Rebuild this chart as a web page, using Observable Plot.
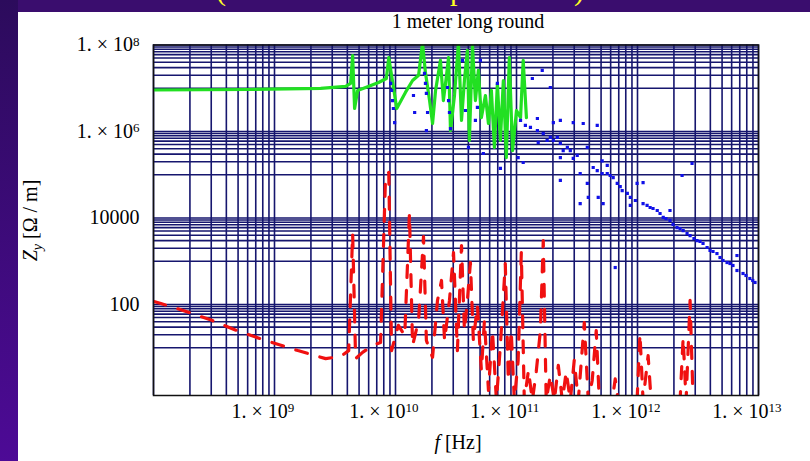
<!DOCTYPE html>
<html>
<head>
<meta charset="utf-8">
<script src="https://cdn.jsdelivr.net/npm/d3@7"></script>
<script src="https://cdn.jsdelivr.net/npm/@observablehq/plot@0.6"></script>
<style>
  html, body { margin: 0; padding: 0; background: #fff; }
  #wrap { position: relative; width: 810px; height: 461px; overflow: hidden; background: #fff; font-family: "Liberation Serif", "DejaVu Serif", serif; }
  #chart { position: absolute; left: 0; top: 0; }
  .band-top { position: absolute; left: 0; top: 0; width: 810px; height: 12px; background: #3a0d6e; overflow: hidden; z-index: 3; }
  .band-left { position: absolute; left: 0; top: 0; width: 18px; height: 461px; background: linear-gradient(to bottom, #2c0b5c, #4d0a96); z-index: 4; }
  .yellow { position: absolute; left: 216px; top: -25px; width: 368px; font: 30px "Liberation Serif", serif; line-height: 30px; color: #ffff22; white-space: nowrap; display: flex; justify-content: space-between; }
  .lbl { position: absolute; color: #000; white-space: nowrap; z-index: 2; }
</style>
</head>
<body>
<div id="wrap">
  <div id="chart"></div>
  <div class="band-top"><div class="yellow"><span>(</span><span>resistive wall impedance</span><span>)</span></div></div>
  <div class="band-left"></div>
  <div class="lbl" id="title" style="left:368px; width:200px; top:10px; text-align:center; font-size:20px;">1 meter long round</div>
  <div class="lbl" id="xlab" style="left:408px; width:100px; top:431px; text-align:center; font-size:20px;"><i>f</i> [Hz]</div>
  <div class="lbl" id="ylab" style="left:-18px; width:100px; top:207px; text-align:center; font-size:20px; transform: rotate(-90deg); transform-origin: 50% 50%;"><i>Z</i><sub style="font-size:14px;"><i>y</i></sub> [Ω / m]</div>
</div>
<script>
// ---------- axes / ticks ----------
const xTicks = [1e9, 1e10, 1e11, 1e12, 1e13];
const xTickLabels = ["1. × 10|9", "1. × 10|10", "1. × 10|11", "1. × 10|12", "1. × 10|13"];
const yTicks = [100, 1e4, 1e6, 1e8];
const yTickLabels = ["100", "10000", "1. × 10|6", "1. × 10|8"];

// grid lines (frequency grid is based on 1.25·10^k decades)
const xGridDecades = [1.25e8, 1.25e9, 1.25e10, 1.25e11, 1.25e12];
const xGridMultipliers = [1, 2, 3, 4, 5, 6, 7, 8, 9];
const xGridEnd = [1.25e13];
const yGridDecades = [10, 1e3, 1e5, 1e7];
const yGridMultipliers = [1, 2, 3, 4, 5, 6, 7, 8, 9];
const yGridExtra = [1e2, 1e4, 1e6, 1e8];

// ---------- series: green (solid) ----------
const greenF = [1.25e8, 7.96e8, 3.01e9, 4.84e9, 5.32e9, 5.53e9, 5.74e9, 6.08e9, 7.08e9, 9.06e9,
  1.05e10, 1.1e10, 1.16e10, 1.28e10, 1.51e10, 1.73e10, 1.94e10, 2.09e10, 2.21e10, 2.39e10,
  2.53e10, 2.68e10, 2.94e10, 3.11e10, 3.30e10, 3.43e10, 3.56e10, 3.84e10, 4.14e10, 4.39e10,
  4.64e10, 4.91e10, 5.1e10, 5.41e10, 5.72e10, 6.05e10, 6.41e10, 6.92e10, 7.33e10, 7.75e10,
  8.21e10, 8.69e10, 9.2e10, 9.73e10, 1.03e11, 1.09e11, 1.16e11, 1.25e11, 1.35e11, 1.42e11, 1.51e11];
const greenZ = [9.1e6, 9.35e6, 9.9e6, 1.1e7, 1.29e7, 5.7e7, 3.4e6, 8.9e6, 1.04e7, 1.36e7,
  1.68e7, 5.1e7, 2.0e7, 3.4e6, 8.0e6, 1.51e7, 2.0e7, 1.1e8, 2.3e7, 5.2e6,
  1.53e6, 8.9e6, 4.4e7, 5.2e6, 2.0e7, 5.1e7, 1.05e6, 6.8e6, 1.1e8, 1.8e6,
  1.51e7, 7.5e7, 6.2e5, 9.7e7, 5.2e6, 2.6e7, 2.1e6, 6.8e6, 1.53e6, 8.9e6,
  4.3e5, 1.29e7, 6.2e5, 1.51e7, 2.5e5, 5.1e7, 3.6e5, 3.06e6, 2.1e6, 4.4e7, 2.1e6];

// ---------- series: blue (points) ----------
const blueF = [1.14e10, 1.16e10, 1.18e10, 1.2e10, 1.23e10, 1.76e10, 1.80e10, 2.17e10, 2.21e10, 2.25e10,
  2.3e10, 2.25e10, 3.36e10, 3.43e10, 3.49e10, 3.56e10, 4.47e10, 4.73e10, 5.01e10, 6.29e10,
  5.94e10, 5.72e10, 6.65e10, 8.69e10, 9.2e10, 1.29e11, 1.42e11, 2.04e11, 2.38e11, 1.69e11,
  1.86e11, 1.35e11, 1.48e11, 1.63e11, 1.86e11, 2.08e11, 2.38e11, 2.72e11, 2.52e11, 2.88e11,
  3.29e11, 3.48e11, 3.97e11, 3.04e11, 4.81e11, 5.81e11, 4.45e11, 3.68e11, 2.88e11, 2.52e11,
  2.24e11, 1.89e11, 2.88e11, 3.68e11, 4.2e11, 4.81e11, 4.9e11, 5.92e11, 6.5e11, 5.38e11,
  5.81e11, 6.38e11, 7.03e11, 7.87e11, 8.5e11, 9.34e11, 1.03e12, 1.09e12, 1.2e12, 1.09e12,
  1.24e12, 1.39e12, 1.59e12, 1.82e12, 2.04e12, 2.32e12, 2.65e12, 2.98e12, 3.40e12, 3.88e12,
  4.35e12, 4.97e12, 5.67e12, 6.36e12, 7.27e12, 8.3e12, 9.31e12, 1.06e13, 1.17e13, 3.53e12,
  2.92e12, 8.3e12, 8.18e11, 2.32e12, 1.39e12, 6.38e11, 7.03e11, 2.88e11, 4.2e11, 6.01e12,
  4.7e12, 4.11e12, 3.21e12, 2.46e12, 1.92e12, 1.68e12, 1.5e12, 7.69e12, 9.85e12, 1.12e13,
  6.87e12, 5.26e12, 3.66e12, 2.81e12, 2.15e12, 9.0e11, 7.43e11];
const blueZ = [1.29e7, 8.9e6, 5.2e6, 3.4e6, 1.6e6, 6.8e6, 2.75e6, 2.2e7, 1.29e7, 7.6e6,
  2.75e6, 1.05e6, 1.04e7, 5.2e6, 2.75e6, 1.17e6, 4.4e7, 3.06e6, 4.3e5, 4.4e7,
  3.6e6, 1.8e6, 3.1e5, 1.29e7, 1.4e5, 2.5e5, 1.92e5, 2.6e7, 1.04e7, 1.68e7,
  2.0e6, 1.8e6, 1.38e6, 1.24e6, 1.05e6, 9.0e5, 7.3e5, 7.3e5, 6.2e5, 5.3e5,
  4.3e5, 3.6e5, 2.8e5, 3.6e5, 4.3e5, 1.38e6, 1.53e6, 1.6e6, 1.8e6, 1.6e6,
  6.2e5, 5.6e5, 2.5e5, 2.4e5, 1.07e5, 6.3e4, 3.0e4, 3.0e4, 2.16e4, 1.47e5,
  1.25e5, 1.07e5, 1.07e5, 8.6e4, 6.3e4, 4.3e4, 3.7e4, 3.0e4, 2.54e4, 1.95e4,
  6.3e4, 2.16e4, 1.75e4, 1.49e4, 1.03e4, 8.8e3, 6.0e3, 5.1e3, 3.9e3, 3.0e3,
  2.57e3, 1.77e3, 1.51e3, 1.04e3, 887, 611, 521, 399, 323, 1.82e5,
  9.6e4, 1.36e3, 716, 1.49e4, 6.6e4, 2.1e5, 1.64e5, 7.4e4, 2.16e4, 1.22e3,
  2.08e3, 2.87e3, 4.38e3, 7.1e3, 1.27e4, 1.66e4, 1.95e4, 798, 469, 359,
  935, 1.68e3, 3.36e3, 5.7e3, 9.7e3, 5.3e4, 9.6e4];

// ---------- series: red (dashed) ----------
const redF = [1.26e8, 1.44e8, 2.19e8, 3.79e8, 6.34e8, 1.06e9, 1.95e9, 3.31e9, 4.4e9, 5.13e9,
  5.53e9, 5.85e9, 6.68e9, 8.09e9, 9.41e9, 1.035e10, 1.10e10, 1.16e10, 1.32e10, 1.49e10,
  1.63e10, 1.73e10, 1.94e10, 2.13e10, 2.25e10, 2.53e10, 2.78e10, 3.0e10, 3.18e10, 3.49e10,
  3.77e10, 4.06e10, 4.39e10, 4.64e10, 4.91e10, 5.2e10, 5.5e10, 5.94e10, 6.41e10, 6.79e10,
  7.33e10, 7.91e10, 8.53e10, 9.2e10, 1.01e11, 1.07e11, 1.13e11, 1.2e11, 1.29e11, 1.37e11,
  1.45e11, 1.57e11, 1.69e11, 1.82e11, 1.97e11, 2.08e11, 2.2e11, 2.38e11, 2.57e11, 2.77e11,
  2.99e11, 3.22e11, 3.48e11, 3.75e11, 4.05e11, 4.54e11, 4.9e11, 5.28e11, 5.7e11, 6.04e11,
  7.73e11, 8.18e11, 8.65e11, 1.24e12, 1.31e12, 1.39e12, 1.53e12, 1.62e12, 2.81e12, 2.98e12,
  3.15e12, 3.4e12, 3.6e12];
const redZ = [117, 105, 73, 43, 24, 14.7, 8.6, 5.6, 6.3, 8.6,
  4.4e3, 5.6, 7.8, 11.3, 13.2, 9.6e4, 1.13e5, 8.6, 33, 19,
  1.27e4, 11.3, 43, 3.7e3, 14.7, 6.0, 124, 359, 14.7, 124,
  1.59e3, 8.6, 2.31e3, 25, 124, 935, 14.7, 95, 3.0, 43,
  1.03, 25, 0.6, 11.3, 887, 1.75, 25, 0.6, 5.1, 1.59e3,
  0.6, 3.0, 0.6, 2.8, 25, 3.0e3, 0.6, 2.3, 0.6, 3.9,
  0.6, 2.8, 0.6, 5.1, 0.6, 38, 0.6, 1.75, 25, 0.6,
  0.6, 1.9, 0.6, 0.6, 21, 0.6, 6.6, 0.6, 0.6, 17,
  0.6, 124, 0.6];

// ---------- build tables ----------
const xGrid = xGridDecades.flatMap(d => xGridMultipliers.map(m => d * m)).concat(xGridEnd);
const yGrid = yGridDecades.flatMap(d => yGridMultipliers.map(m => d * m)).concat(yGridExtra);
const green = greenF.map((f, i) => ({f, z: greenZ[i]}));
const blue = blueF.map((f, i) => ({f, z: blueZ[i]}));
const red = redF.map((f, i) => ({f, z: redZ[i]}));

const navy = "#16166e";
const font = '"Liberation Serif", serif';

const svg = Plot.plot({
  width: 810,
  height: 461,
  marginLeft: 153,
  marginRight: 52,
  marginTop: 44.5,
  marginBottom: 66,
  style: {background: "transparent", fontFamily: font, fontSize: "20px", color: "#000"},
  x: {type: "log", domain: [1.25e8, 1.25e13]},
  y: {type: "log", domain: [0.787, 1e8]},
  marks: [
    Plot.ruleX(xGrid, {stroke: navy, strokeWidth: 1.6}),
    Plot.ruleY(yGrid, {stroke: navy, strokeWidth: 1.6}),
    Plot.line(red, {x: "f", y: "z", stroke: "#f01010", strokeWidth: 3.2, strokeDasharray: "12,13", clip: true}),
    Plot.line(green, {x: "f", y: "z", stroke: "#22e022", strokeWidth: 3.2, clip: true}),
    Plot.dot(blue, {x: "f", y: "z", r: 1.8, symbol: "square", fill: "#1010e8", clip: true}),
    Plot.frame({stroke: "#111", strokeWidth: 1.5}),
    Plot.axisX({ticks: xTicks, tickSize: 0, tickPadding: 8, label: null,
      tickFormat: d => xTickLabels[xTicks.indexOf(d)], fontSize: 20}),
    Plot.axisY({ticks: yTicks, tickSize: 0, tickPadding: 14, label: null,
      tickFormat: d => yTickLabels[yTicks.indexOf(d)], fontSize: 20})
  ]
});

// superscripts for "1. × 10^n" labels
svg.querySelectorAll("text").forEach(t => {
  const s = t.textContent;
  if (s.includes("|")) {
    const [a, b] = s.split("|");
    t.textContent = "";
    const ns = "http://www.w3.org/2000/svg";
    const t1 = document.createElementNS(ns, "tspan");
    t1.textContent = a;
    const t2 = document.createElementNS(ns, "tspan");
    t2.textContent = b;
    t2.setAttribute("dy", "-0.45em");
    t2.setAttribute("font-size", "0.65em");
    t.appendChild(t1);
    t.appendChild(t2);
  }
});
document.getElementById("chart").appendChild(svg);
</script>
</body>
</html>
